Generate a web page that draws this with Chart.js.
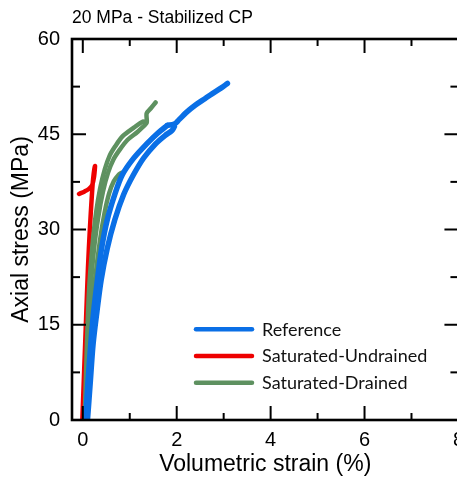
<!DOCTYPE html>
<html><head><meta charset="utf-8">
<script src="https://cdn.jsdelivr.net/npm/chart.js@4"></script>
<style>html,body{margin:0;padding:0;background:#fff;overflow:hidden;width:457px;height:478px}#wrap{width:472px;height:478px;position:relative}</style>
</head><body><div id="wrap"><canvas id="c"></canvas></div>
<script>
const chartTitle = '20 MPa - Stabilized CP';
const xAxisTitle = 'Volumetric strain (%)';
const yAxisTitle = 'Axial stress (MPa)';
const seriesNames = ['Reference', 'Saturated-Undrained', 'Saturated-Drained'];
const seriesColors = ['#0a6fe6', '#ee0000', '#5e9160'];
const xTicks = [0, 2, 4, 6, 8];
const xMinorTicks = [1, 3, 5, 7];
const yTicks = [0, 15, 30, 45, 60];
const yMinorTicks = [7.5, 22.5, 37.5, 52.5];

// Reference (blue) – loading / reloading strokes and final branch
const referenceLoad = [[0.1,0],[0.16,6],[0.22,12],[0.3,17],[0.39,22],[0.52,27],[0.68,31.5],[0.87,35.5],[1.07,38.5],[1.3,41.3],[1.55,43.5],[1.75,44.8],[1.9,45.6],[1.95,46.2]];
const referenceReload = [[0.06,0],[0.11,6],[0.17,12],[0.23,17],[0.31,22],[0.4,27],[0.52,31.5],[0.68,35.5],[0.84,38.6],[1.08,41.2],[1.35,43.4],[1.6,45.2],[1.8,46.4]];
const referenceFinal = [[1.8,46.4],[1.95,46.6],[2.05,47.3],[2.2,48.4],[2.4,49.6],[2.6,50.6],[2.76,51.4],[2.95,52.3],[3.08,53.0]];
// Saturated-Undrained (red)
const undrained = [[-0.01,0],[0.03,8],[0.07,16],[0.11,24],[0.15,30],[0.19,35],[0.22,38],[0.26,40],[0.24,38.3],[0.2,37],[0.13,36.4],[0.04,36],[-0.08,35.6]];
// Saturated-Drained (green)
const drainedA = [[0.04,0],[0.08,10],[0.13,20],[0.2,27],[0.28,32.5],[0.37,36.5],[0.47,39.5],[0.57,41.6],[0.69,43.1],[0.85,44.7],[1.08,46.0],[1.28,47.0],[1.36,46.8],[1.36,48.3],[1.45,49.1],[1.55,50.0]];
const drainedB = [[0.06,0],[0.1,10],[0.16,20],[0.24,27],[0.33,32],[0.43,36],[0.54,39],[0.65,41],[0.78,42.5],[0.95,44.1],[1.17,45.4],[1.33,46.5]];
const drainedBranch = [[0.1,5],[0.17,15],[0.26,22],[0.36,28],[0.46,32.5],[0.56,35.7],[0.66,37.6],[0.76,38.6],[0.82,38.9]];

const toPts = a => a.map(p => ({x: p[0], y: p[1]}));
function ds(arr, idx, width, label) {
  return {label: label || '', data: toPts(arr), showLine: true, borderColor: seriesColors[idx],
    backgroundColor: seriesColors[idx], borderWidth: width, pointRadius: 0, tension: 0.3,
    borderCapStyle: 'round', borderJoinStyle: 'round', fill: false};
}

const framePlugin = {
  id: 'frame',
  afterDatasetsDraw(chart) {
    const {ctx, chartArea: a, scales: {x, y}} = chart;
    ctx.save();
    ctx.strokeStyle = '#000';
    ctx.lineWidth = 2;
    ctx.lineCap = 'butt';
    const tick = (x1, y1, x2, y2) => { ctx.beginPath(); ctx.moveTo(x1, y1); ctx.lineTo(x2, y2); ctx.stroke(); };
    xTicks.forEach(v => { const px = x.getPixelForValue(v); tick(px, a.bottom, px, a.bottom - 14); tick(px, a.top, px, a.top + 14); });
    xMinorTicks.forEach(v => { const px = x.getPixelForValue(v); tick(px, a.bottom, px, a.bottom - 7); tick(px, a.top, px, a.top + 7); });
    yTicks.forEach(v => { const py = y.getPixelForValue(v); tick(a.left, py, a.left + 14, py); tick(a.right, py, a.right - 14, py); });
    yMinorTicks.forEach(v => { const py = y.getPixelForValue(v); tick(a.left, py, a.left + 8, py); tick(a.right, py, a.right - 8, py); });
    ctx.lineWidth = 2.6;
    ctx.strokeRect(a.left, a.top, a.right - a.left, a.bottom - a.top);
    // title
    ctx.fillStyle = '#000';
    ctx.font = '17.5px "Liberation Sans", Arial, sans-serif';
    ctx.textAlign = 'left';
    ctx.textBaseline = 'alphabetic';
    ctx.fillText(chartTitle, a.left, 23);
    // legend
    const rows = [290.3, 317, 343.7];
    ctx.font = '18px Lato, "Open Sans", sans-serif';
    ctx.textBaseline = 'middle';
    rows.forEach((dy, i) => {
      const yy = a.top + dy;
      ctx.strokeStyle = seriesColors[i];
      ctx.lineWidth = 4.5;
      ctx.lineCap = 'round';
      tick(a.left + 124, yy, a.left + 180, yy);
      ctx.fillStyle = '#111';
      ctx.fillText(seriesNames[i], a.left + 190, yy + 0.5);
    });
    ctx.restore();
  }
};

new Chart(document.getElementById('c'), {
  type: 'scatter',
  data: {datasets: [
    ds(referenceLoad, 0, 5.5, seriesNames[0]),
    ds(referenceReload, 0, 5.5),
    ds(referenceFinal, 0, 5.5),
    ds(drainedB, 2, 4.5),
    ds(drainedBranch, 2, 4.5),
    ds(drainedA, 2, 4.5, seriesNames[2]),
    ds(undrained, 1, 4.5, seriesNames[1])
  ]},
  options: {
    responsive: true, maintainAspectRatio: false, animation: false,
    layout: {autoPadding: false, padding: {top: 39, right: 1, left: 0, bottom: 0}},
    plugins: {legend: {display: false}, tooltip: {enabled: false}, title: {display: false}},
    scales: {
      x: {type: 'linear', min: -0.23, max: 8, position: 'bottom',
        afterFit(s) { s.height = 58; },
        afterBuildTicks(s) { s.ticks = xTicks.map(v => ({value: v})); },
        grid: {display: true, drawOnChartArea: false, drawTicks: false},
        border: {display: false},
        ticks: {padding: 8, color: '#000', font: {family: '"Liberation Sans", Arial, sans-serif', size: 20}, maxRotation: 0},
        title: {display: true, text: xAxisTitle, color: '#000', font: {family: '"Liberation Sans", Arial, sans-serif', size: 23}, padding: {top: 0, bottom: 0}}
      },
      y: {type: 'linear', min: 0, max: 60, position: 'left',
        afterFit(s) { s.width = 72; },
        afterBuildTicks(s) { s.ticks = yTicks.map(v => ({value: v})); },
        grid: {display: true, drawOnChartArea: false, drawTicks: false},
        border: {display: false},
        ticks: {padding: 12, color: '#000', font: {family: '"Liberation Sans", Arial, sans-serif', size: 20}},
        title: {display: true, text: yAxisTitle, color: '#000', font: {family: '"Liberation Sans", Arial, sans-serif', size: 23}, padding: {top: 8, bottom: 0}}
      }
    }
  },
  plugins: [framePlugin]
});
</script></body></html>
